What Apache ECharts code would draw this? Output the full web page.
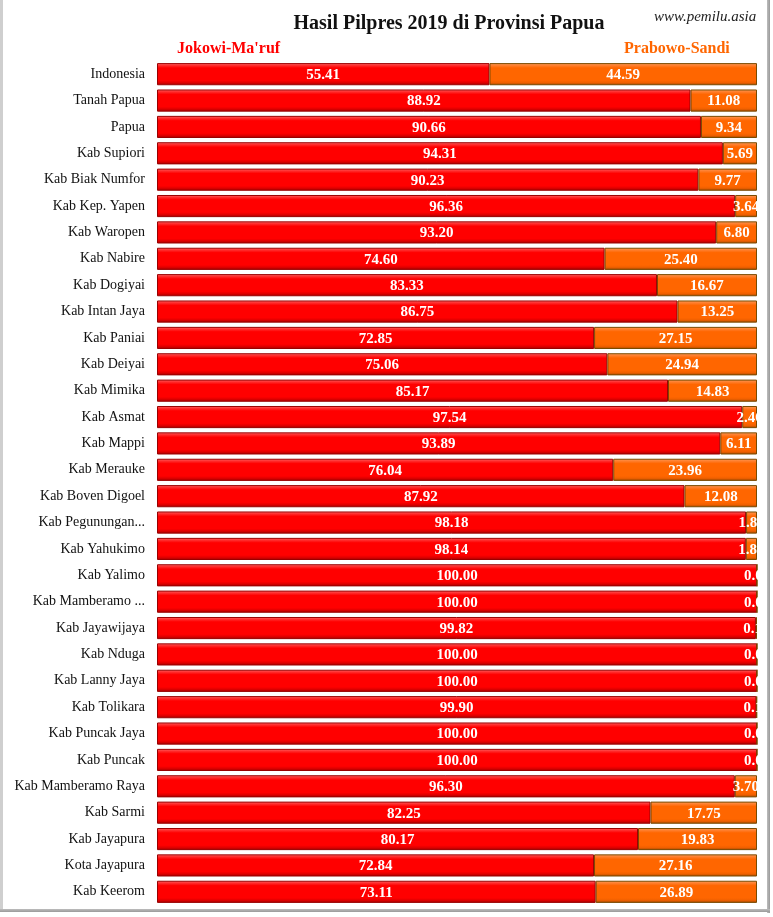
<!DOCTYPE html>
<html>
<head>
<meta charset="utf-8">
<script src="https://cdn.jsdelivr.net/npm/echarts@6/dist/echarts.min.js"></script>
<style>
  html, body { margin: 0; padding: 0; background: #fff; }
  #wrap { position: relative; width: 773px; height: 917px; overflow: hidden; background: #fff; }
  #chart { position: absolute; left: 0; top: 0; width: 758px; height: 917px; }
  .fl { position: absolute; left: 0; top: 0; width: 3px; height: 912px; background: #cfcfcf; }
  .fr { position: absolute; left: 767px; top: 0; width: 3px; height: 913px; background: linear-gradient(to right, #bdbdbd, #9a9a9a); }
  .fb { position: absolute; left: 0; top: 909px; width: 770px; height: 3px; background: linear-gradient(to bottom, #bdbdbd, #9a9a9a); }
  #site { position: absolute; left: 654px; top: 8px; font-family: 'Liberation Serif', serif; font-style: italic; font-size: 15px; color: #222; white-space: nowrap; }
</style>
</head>
<body>
<div id="wrap">
  <div id="chart"></div>
  <div class="fl"></div>
  <div class="fr"></div>
  <div class="fb"></div>
</div>
<script>
const categories = [
  "Indonesia", "Tanah Papua", "Papua", "Kab Supiori", "Kab Biak Numfor",
  "Kab Kep. Yapen", "Kab Waropen", "Kab Nabire", "Kab Dogiyai", "Kab Intan Jaya",
  "Kab Paniai", "Kab Deiyai", "Kab Mimika", "Kab Asmat", "Kab Mappi",
  "Kab Merauke", "Kab Boven Digoel", "Kab Pegunungan...", "Kab Yahukimo", "Kab Yalimo",
  "Kab Mamberamo ...", "Kab Jayawijaya", "Kab Nduga", "Kab Lanny Jaya", "Kab Tolikara",
  "Kab Puncak Jaya", "Kab Puncak", "Kab Mamberamo Raya", "Kab Sarmi", "Kab Jayapura",
  "Kota Jayapura", "Kab Keerom"
];
const jokowi = [
  55.41, 88.92, 90.66, 94.31, 90.23,
  96.36, 93.20, 74.60, 83.33, 86.75,
  72.85, 75.06, 85.17, 97.54, 93.89,
  76.04, 87.92, 98.18, 98.14, 100.00,
  100.00, 99.82, 100.00, 100.00, 99.90,
  100.00, 100.00, 96.30, 82.25, 80.17,
  72.84, 73.11
];
const prabowo = [
  44.59, 11.08, 9.34, 5.69, 9.77,
  3.64, 6.80, 25.40, 16.67, 13.25,
  27.15, 24.94, 14.83, 2.46, 6.11,
  23.96, 12.08, 1.82, 1.86, 0.00,
  0.00, 0.18, 0.00, 0.00, 0.10,
  0.00, 0.00, 3.70, 17.75, 19.83,
  27.16, 26.89
];
const seriesNames = ["Jokowi-Ma'ruf", "Prabowo-Sandi"];

const chart = echarts.init(document.getElementById('chart'), null, { renderer: 'canvas' });
const serif = "'Liberation Serif', 'DejaVu Serif', serif";

function grad(c0, c1, c2, c3, c4) {
  return new echarts.graphic.LinearGradient(0, 0, 0, 1, [
    { offset: 0, color: c0 },
    { offset: 0.1, color: c1 },
    { offset: 0.22, color: c2 },
    { offset: 0.78, color: c2 },
    { offset: 0.88, color: c3 },
    { offset: 1, color: c4 }
  ]);
}

const labelCommon = {
  show: true,
  position: 'inside',
  offset: [0, 1],
  color: '#ffffff',
  fontFamily: serif,
  fontWeight: 'bold',
  fontSize: 15,
  formatter: p => p.value.toFixed(2)
};

chart.setOption({
  animation: false,
  backgroundColor: 'transparent',
  title: [
    {
      text: 'Hasil Pilpres 2019 di Provinsi Papua',
      left: 444, top: 9, textAlign: 'center',
      textStyle: { fontFamily: serif, fontWeight: 'bold', fontSize: 20, color: '#111' }
    }
  ],
  legend: [
    {
      data: [seriesNames[0]], left: 166, top: 36, selectedMode: false,
      itemWidth: 0, itemHeight: 0, itemGap: 0,
      textStyle: { fontFamily: serif, fontWeight: 'bold', fontSize: 16, color: '#ff0000' }
    },
    {
      data: [seriesNames[1]], left: 613, top: 36, selectedMode: false,
      itemWidth: 0, itemHeight: 0, itemGap: 0,
      textStyle: { fontFamily: serif, fontWeight: 'bold', fontSize: 16, color: '#ff6600' }
    }
  ],
  grid: { left: 157, top: 61, width: 600, height: 844, containLabel: false },
  xAxis: { type: 'value', min: 0, max: 100, show: false },
  yAxis: {
    type: 'category', data: categories, inverse: true,
    axisLine: { show: false }, axisTick: { show: false }, splitLine: { show: false },
    axisLabel: { margin: 12, fontFamily: serif, fontSize: 14, color: '#111' }
  },
  series: [
    {
      name: seriesNames[0], type: 'bar', stack: 'total', data: jokowi,
      barCategoryGap: '16%',
      itemStyle: {
        color: grad('#ff7070', '#ff3030', '#ff0000', '#e00000', '#a00000'),
        borderColor: '#9a0000', borderWidth: 1
      },
      label: labelCommon
    },
    {
      name: seriesNames[1], type: 'bar', stack: 'total', data: prabowo,
      barCategoryGap: '16%',
      itemStyle: {
        color: grad('#ffa060', '#ff8030', '#ff6600', '#f06000', '#a04800'),
        borderColor: '#7a4a00', borderWidth: 1
      },
      label: labelCommon
    }
  ]
});
</script>
<div id="site" style="position:absolute;left:654px;top:8px;">www.pemilu.asia</div>
</body>
</html>
